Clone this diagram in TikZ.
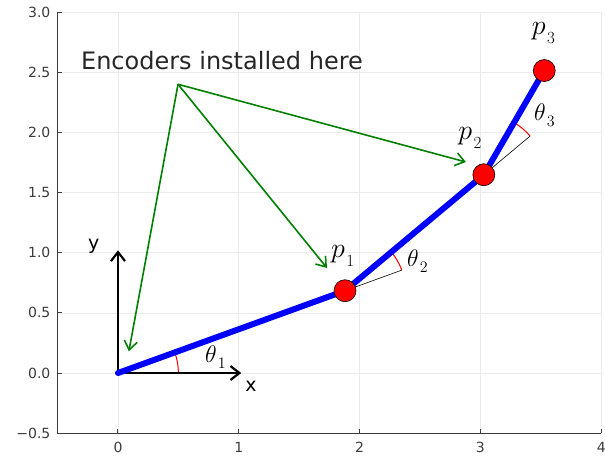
\RequirePackage{fix-cm}
\documentclass[tikz,border=0pt]{standalone}
\usepackage{fontspec}
\setmainfont{DejaVu Sans}
\usetikzlibrary{arrows.meta}
\definecolor{plotgreen}{RGB}{0,128,0}
\definecolor{gridgray}{RGB}{235,235,235}
\definecolor{axisgray}{RGB}{60,60,60}
\newcommand{\plabel}[1]{{\fontsize{28}{30}\selectfont$p$}\kern1.5pt\raisebox{-9pt}{\fontsize{17}{19}\selectfont$#1$}}
\newcommand{\tlabel}[1]{{\fontsize{24}{26}\selectfont$\theta$}\kern1pt\raisebox{-6pt}{\fontsize{16}{18}\selectfont$#1$}}
\tikzset{
  gridline/.style={draw=gridgray, line width=0.6pt},
  axisline/.style={draw=axisgray, line width=1pt},
  ticklabel/.style={text=axisgray, font=\fontsize{14}{16}\selectfont, inner sep=0pt},
  linkline/.style={draw=blue, line width=6pt, line cap=round, line join=round},
  joint/.style={circle, draw=black, fill=red, line width=0.6pt, minimum size=22pt, inner sep=0pt},
  refline/.style={draw=black, line width=0.6pt},
  anglearc/.style={draw=red, line width=1pt},
  frameaxis/.style={draw=black, line width=2.2pt, -{Straight Barb[length=9pt,width=14pt,line width=2.2pt]}},
  encarrow/.style={draw=plotgreen, line width=1.6pt, -{Straight Barb[length=9pt,width=13pt,line width=1.6pt]}},
  mathlabel/.style={anchor=base west, inner sep=0pt},
  axislabel/.style={font=\fontsize{19}{22}\selectfont, inner sep=0pt},
}
\begin{document}
\begin{tikzpicture}[x=120.8pt,y=120.3pt]
\useasboundingbox (-0.9768,-0.69) rectangle (4.0315,3.1006);
% grid
\foreach \gx in {0,1,2,3,4} \draw[gridline] (\gx,-0.5) -- (\gx,3);
\foreach \gy in {-0.5,0,0.5,1,1.5,2,2.5,3} \draw[gridline] (-0.5,\gy) -- (4,\gy);
% axes
\draw[axisline] (-0.5,3) -- (-0.5,-0.5) -- (4,-0.5);
\foreach \gx in {0,1,2,3,4} {
  \draw[axisline] (\gx,-0.5) -- ++(0,4pt);
  \node[ticklabel, anchor=north] (xt\gx) at ([yshift=-9pt]\gx,-0.5) {\gx};
}
\foreach \gy/\lab [count=\i] in {-0.5/−0.5,0/0.0,0.5/0.5,1/1.0,1.5/1.5,2/2.0,2.5/2.5,3/3.0} {
  \draw[axisline] (-0.5,\gy) -- ++(4pt,0);
  \node[ticklabel, anchor=east] (yt\i) at ([xshift=-7pt]-0.5,\gy) {\lab};
}
% points
\coordinate (O) at (0,0);
\coordinate (P1) at (1.8794,0.6840);
\coordinate (P2) at (3.0285,1.6482);
\coordinate (P3) at (3.5285,2.5142);
\coordinate (XA) at (1.02,0);
\coordinate (YA) at (0,1.02);
% reference lines and angle arcs
\draw[refline] (P1) -- ++(20:0.5);
\draw[refline] (P2) -- ++(40:0.5);
\draw[anglearc] ([shift={(0:0.5)}]O) arc[start angle=0,end angle=20,radius=0.5];
\draw[anglearc] ([shift={(20:0.5)}]P1) arc[start angle=20,end angle=40,radius=0.5];
\draw[anglearc] ([shift={(40:0.5)}]P2) arc[start angle=40,end angle=60,radius=0.5];
% frame axes
\draw[frameaxis] (O) -- (XA);
\draw[frameaxis] (O) -- (YA);
\node[axislabel] (xl) at (1.10,-0.11) {x};
\node[axislabel] (yl) at (-0.20,1.05) {y};
% links
\draw[linkline] (O) -- (P1) -- (P2) -- (P3);
\node[joint] (J1) at (P1) {};
\node[joint] (J2) at (P2) {};
\node[joint] (J3) at (P3) {};
% labels
\node[mathlabel] (l1) at (1.763,0.960) {\plabel{1}};
\node[mathlabel] (l2) at (2.815,1.937) {\plabel{2}};
\node[mathlabel] (l3) at (3.425,2.815) {\plabel{3}};
\node[mathlabel] (t1) at (0.72,0.09) {\tlabel{1}};
\node[mathlabel] (t2) at (2.392,0.889) {\tlabel{2}};
\node[mathlabel] (t3) at (3.444,2.097) {\tlabel{3}};
% encoder note
\node[font=\fontsize{24}{28}\selectfont, text=black!85, inner sep=0pt] (enc) at (0.861,2.594) {Encoders installed here};
\coordinate (S) at (0.497,2.40);
\coordinate (E1) at (0.09,0.18);
\coordinate (E2) at (1.73,0.873);
\coordinate (E3) at (2.88,1.754);
\draw[encarrow] (S) -- (E1);
\draw[encarrow] (S) -- (E2);
\draw[encarrow] (S) -- (E3);
\end{tikzpicture}
\end{document}
